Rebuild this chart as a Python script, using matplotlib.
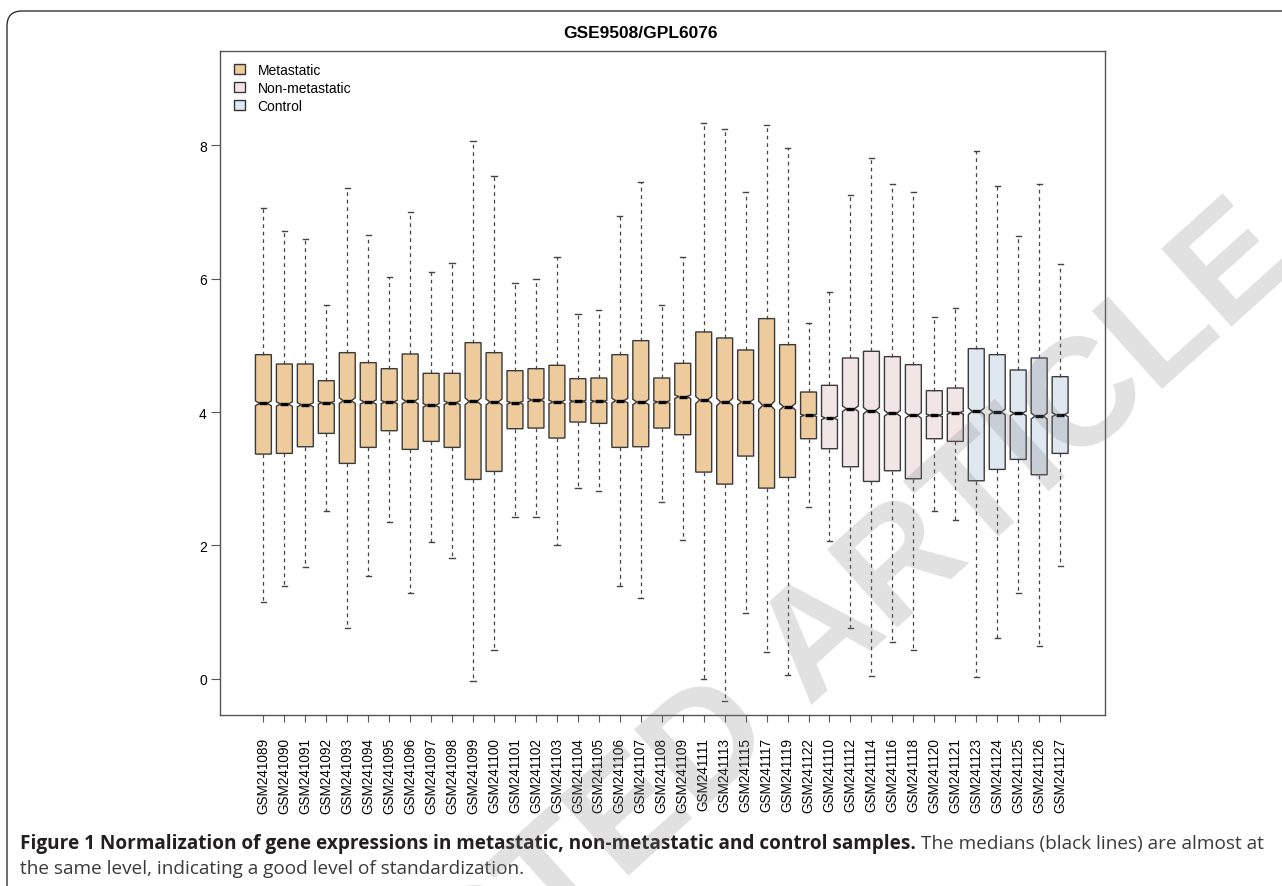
import matplotlib
matplotlib.use('Agg')
import matplotlib.pyplot as plt
from matplotlib.patches import Patch, FancyBboxPatch

plt.rcParams['font.family'] = ['Liberation Sans', 'DejaVu Sans']

# sample ids, in the order they appear on the x axis
samples = ['GSM241089', 'GSM241090', 'GSM241091', 'GSM241092', 'GSM241093', 'GSM241094',
           'GSM241095', 'GSM241096', 'GSM241097', 'GSM241098', 'GSM241099', 'GSM241100',
           'GSM241101', 'GSM241102', 'GSM241103', 'GSM241104', 'GSM241105', 'GSM241106',
           'GSM241107', 'GSM241108', 'GSM241109', 'GSM241111', 'GSM241113', 'GSM241115',
           'GSM241117', 'GSM241119', 'GSM241122',
           'GSM241110', 'GSM241112', 'GSM241114', 'GSM241116', 'GSM241118', 'GSM241120',
           'GSM241121',
           'GSM241123', 'GSM241124', 'GSM241125', 'GSM241126', 'GSM241127']
group_names = ['Metastatic', 'Non-metastatic', 'Control']
group_sizes = [27, 7, 5]
group_colors = ['#edcb9c', '#f2e5e5', '#dfe7f1']

# box statistics
whisker_hi = [7.05, 6.71, 6.59, 5.61, 7.36, 6.66, 6.03, 7.00, 6.10, 6.23, 8.06, 7.54, 5.93,
              5.99, 6.33, 5.47, 5.53, 6.93, 7.45, 5.61, 6.32, 8.33, 8.24, 7.29, 8.30, 7.96,
              5.34, 5.80, 7.25, 7.81, 7.41, 7.29, 5.43, 5.56, 7.91, 7.39, 6.64, 7.42, 6.22]
q3 = [4.86, 4.72, 4.72, 4.47, 4.89, 4.74, 4.65, 4.87, 4.58, 4.58, 5.04, 4.89, 4.62,
      4.65, 4.70, 4.50, 4.51, 4.86, 5.07, 4.51, 4.73, 5.20, 5.11, 4.93, 5.40, 5.01,
      4.30, 4.40, 4.81, 4.91, 4.83, 4.71, 4.32, 4.36, 4.95, 4.86, 4.63, 4.81, 4.53]
med = [4.13, 4.12, 4.11, 4.14, 4.17, 4.15, 4.15, 4.16, 4.10, 4.14, 4.16, 4.15, 4.14,
       4.18, 4.15, 4.16, 4.16, 4.17, 4.15, 4.15, 4.23, 4.18, 4.15, 4.15, 4.10, 4.08,
       3.95, 3.91, 4.05, 4.02, 3.98, 3.95, 3.95, 3.99, 4.01, 4.00, 3.98, 3.94, 3.96]
q1 = [3.37, 3.38, 3.48, 3.68, 3.23, 3.47, 3.72, 3.44, 3.56, 3.47, 2.99, 3.11, 3.75,
      3.76, 3.61, 3.85, 3.83, 3.47, 3.48, 3.76, 3.66, 3.10, 2.92, 3.34, 2.86, 3.02,
      3.60, 3.45, 3.18, 2.96, 3.12, 3.00, 3.60, 3.56, 2.97, 3.14, 3.29, 3.06, 3.38]
whisker_lo = [1.16, 1.39, 1.68, 2.51, 0.76, 1.55, 2.35, 1.29, 2.05, 1.82, -0.03, 0.43, 2.43,
              2.43, 2.00, 2.86, 2.81, 1.39, 1.22, 2.65, 2.08, 0.00, -0.33, 0.99, 0.41, 0.06,
              2.57, 2.06, 0.77, 0.05, 0.56, 0.44, 2.51, 2.38, 0.03, 0.61, 1.29, 0.49, 1.70]

W, H = 1282, 887
fig = plt.figure(figsize=(W / 100, H / 100), dpi=100)
ax = fig.add_axes([220 / W, 1 - 716 / H, (1105 - 220) / W, (716 - 52) / H])

stats = []
for i in range(len(samples)):
    iqr = q3[i] - q1[i]
    stats.append(dict(label=samples[i], med=med[i], q1=q1[i], q3=q3[i],
                      whislo=whisker_lo[i], whishi=whisker_hi[i],
                      cilo=med[i] - 0.025 * iqr, cihi=med[i] + 0.025 * iqr, fliers=[]))

positions = list(range(1, len(samples) + 1))
bp = ax.bxp(stats, positions=positions, widths=0.76, shownotches=True, patch_artist=True,
            showfliers=False, capwidths=0.25,
            boxprops=dict(edgecolor='#3a3a3a', linewidth=1.0),
            whiskerprops=dict(color='#444444', linestyle=(0, (3, 3)), linewidth=0.9),
            capprops=dict(color='#444444', linewidth=1.0),
            medianprops=dict(color='black', linewidth=2.4))

colors = []
for name_i, n in enumerate(group_sizes):
    colors += [group_colors[name_i]] * n
for box, c in zip(bp['boxes'], colors):
    box.set_facecolor(c)

ax.set_xlim(-1.07, 41.14)
ax.set_ylim(-0.54, 9.41)
ax.set_yticks([0, 2, 4, 6, 8])
ax.set_xticks(positions)
ax.set_xticklabels(samples, rotation=90, va='top', ha='center')
ax.tick_params(axis='x', length=5, pad=11, labelsize=9.8, color='#555555')
ax.tick_params(axis='y', length=6.5, pad=3, labelsize=10, color='#555555')
for s in ax.spines.values():
    s.set_color('#555555')
    s.set_linewidth(1.0)

handles = [Patch(facecolor=c, edgecolor='#333333', linewidth=1.0) for c in group_colors]
ax.legend(handles, group_names, loc='upper left', bbox_to_anchor=(227 / W, 1 - 57 / H),
          bbox_transform=fig.transFigure, frameon=False, borderpad=0, fontsize=10,
          handlelength=0.8, handleheight=0.8, handletextpad=0.9, labelspacing=0.28)

fig.text(640 / W, 1 - 34 / H, 'GSE9508/GPL6076', ha='center', va='center',
         fontsize=12.5, fontweight='bold')

# outer frame of the figure panel
fig.patches.append(FancyBboxPatch((0.07, -1.0), 14.0, H / 100 - 0.12 + 1.0,
                                  boxstyle='round,pad=0,rounding_size=0.15',
                                  transform=fig.dpi_scale_trans, fill=False,
                                  edgecolor='#333333', linewidth=1.0))

# caption
bold_txt = 'Figure 1 Normalization of gene expressions in metastatic, non-metastatic and control samples.'
rest_txt = 'The medians (black lines) are almost at'
line2 = 'the same level, indicating a good level of standardization.'
cap_font = ['Open Sans', 'DejaVu Sans']
t1 = fig.text(20 / W, 1 - 844 / H, bold_txt, fontsize=12, fontweight='bold',
              va='center', ha='left', family=cap_font, color='#231f20')
t2 = fig.text(0, 1 - 844 / H, rest_txt, fontsize=12, va='center', ha='left',
              family=cap_font, color='#3a3a3a')
t3 = fig.text(20 / W, 1 - 869 / H, line2, fontsize=12, va='center', ha='left',
              family=cap_font, color='#3a3a3a')
fig.canvas.draw()
r = fig.canvas.get_renderer()
w_all = t1.get_window_extent(r).width + t2.get_window_extent(r).width + 5
size = 12 * 1245 / w_all
for t in (t1, t2, t3):
    t.set_fontsize(size)
fig.canvas.draw()
x2 = t1.get_window_extent(r).x1 + size * 0.35
t2.set_x(x2 / W)

# watermark
wm = dict(fontsize=110, fontweight='bold', color='#808080', alpha=0.24, rotation=42,
          rotation_mode='anchor', va='baseline', zorder=10)
fig.text(808 / W, 1 - 705 / H, 'ARTICLE', ha='left', **wm)
fig.text(777 / W, 1 - 733 / H, 'RETRACTED', ha='right', **wm)

fig.savefig('out.png', dpi=100)
